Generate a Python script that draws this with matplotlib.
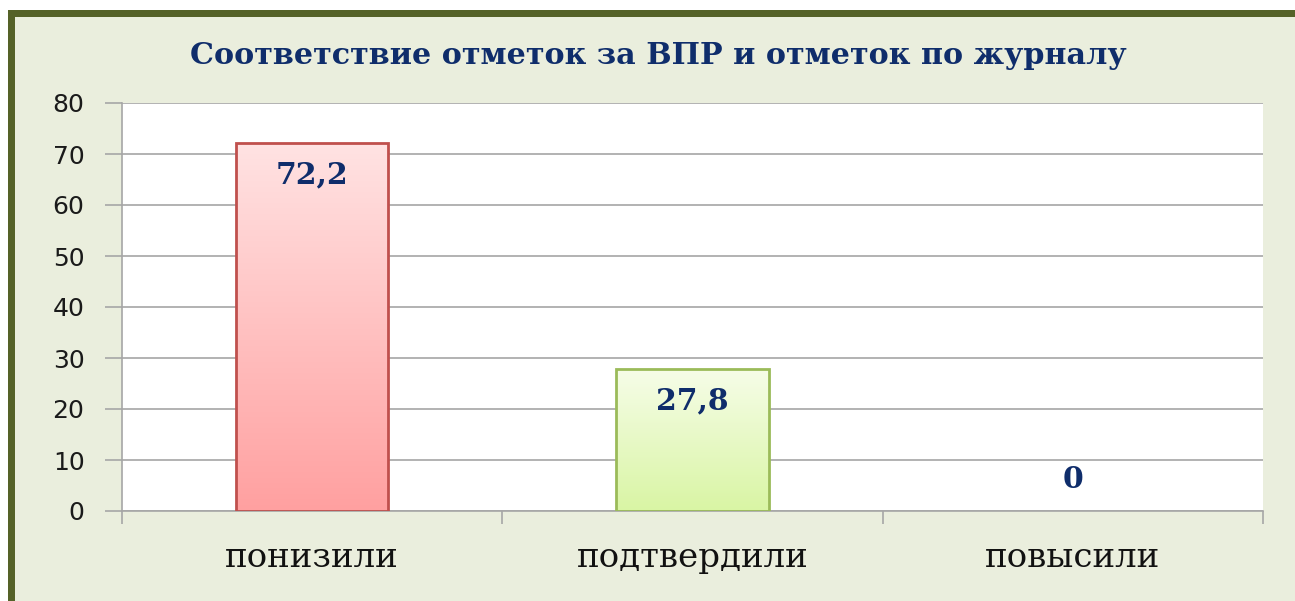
import matplotlib.pyplot as plt
import numpy as np
from matplotlib.patches import Rectangle
from matplotlib.colors import LinearSegmentedColormap

categories = ['понизили', 'подтвердили', 'повысили']
values = [72.2, 27.8, 0]
labels = ['72,2', '27,8', '0']
tops = ['#FFE3E3', '#F6FDE8', '#FFFFFF']
bottoms = ['#FFA0A0', '#D9F5A4', '#FFFFFF']
edges = ['#C0504D', '#9BBB59', '#FFFFFF']

fig = plt.figure(figsize=(12.95, 6.01), dpi=100)
fig.patch.set_facecolor('white')

# frame: dark olive border on top/left, pale green inside
fig.patches.append(Rectangle((8 / 1295, 0), 1, 1 - 10 / 601, transform=fig.transFigure,
                             facecolor='#556228', edgecolor='none', zorder=-2))
fig.patches.append(Rectangle((15 / 1295, 0), 1, 1 - 17 / 601, transform=fig.transFigure,
                             facecolor='#EAEEDD', edgecolor='none', zorder=-1))

ax = fig.add_axes([122 / 1295, 1 - 511 / 601, (1263 - 122) / 1295, (511 - 103) / 601])
ax.set_facecolor('white')

x = np.arange(len(categories))
bars = ax.bar(x, values, width=0.4, color='none', zorder=3)
for b, top, bot, ec in zip(bars, tops, bottoms, edges):
    if b.get_height() == 0:
        continue
    cmap = LinearSegmentedColormap.from_list('g', [bot, top])
    x0, y0 = b.get_x(), b.get_y()
    w, h = b.get_width(), b.get_height()
    grad = np.linspace(0, 1, 256).reshape(-1, 1)
    im = ax.imshow(grad, cmap=cmap, origin='lower', aspect='auto',
                   extent=[x0, x0 + w, y0, y0 + h], zorder=2)
    im.set_clip_path(b)
    ax.add_patch(Rectangle((x0, y0), w, h, facecolor='none', edgecolor=ec,
                           linewidth=2, zorder=4))

for xi, v, lab in zip(x, values, labels):
    y = v - 6.3 if v > 10 else v + 6.1
    ax.text(xi, y, lab, ha='center', va='center', fontsize=21.5, fontweight='bold',
            family='DejaVu Serif', color='#0F2D6B', zorder=5)

ax.set_xlim(-0.5, 2.5)
ax.set_ylim(0, 80)
ax.set_yticks(range(0, 81, 10))
ax.yaxis.grid(True, color='#A6A6A6', linewidth=1.2)
ax.set_axisbelow(True)
ax.tick_params(axis='y', length=12, width=1.2, color='#A6A6A6', labelsize=18, pad=15,
               labelcolor='#1A1A1A')
ax.set_xticks([-0.5, 0.5, 1.5, 2.5])
ax.set_xticklabels([])
ax.tick_params(axis='x', length=9, width=1.2, color='#A6A6A6')
for xi, c in zip(x, categories):
    ax.text(xi, -9.2, c, ha='center', va='center', fontsize=24.5, family='DejaVu Serif',
            color='#111111')
for s in ['top', 'right']:
    ax.spines[s].set_visible(False)
for s in ['left', 'bottom']:
    ax.spines[s].set_color('#A6A6A6')
    ax.spines[s].set_linewidth(1.2)

fig.text(658 / 1295, 1 - 55 / 601, 'Соответствие отметок за ВПР и отметок по журналу',
         ha='center', va='center', fontsize=21.7, fontweight='bold',
         family='DejaVu Serif', color='#0F2D6B')

fig.savefig('out.png', dpi=100)
